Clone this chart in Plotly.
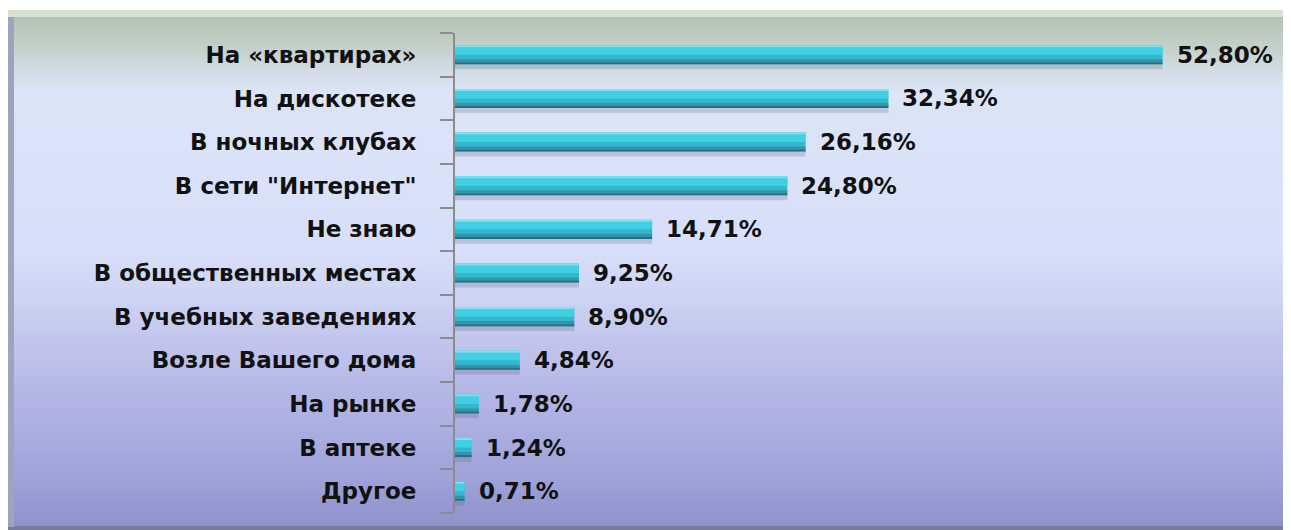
import plotly.graph_objects as go

# ---- data ----
categories = ["На «квартирах»", "На дискотеке", "В ночных клубах", "В сети \"Интернет\"",
              "Не знаю", "В общественных местах", "В учебных заведениях",
              "Возле Вашего дома", "На рынке", "В аптеке", "Другое"]
values = [52.80, 32.34, 26.16, 24.80, 14.71, 9.25, 8.90, 4.84, 1.78, 1.24, 0.71]
value_labels = [f"{v:.2f}".replace(".", ",") + "%" for v in values]

# page has an 8px body margin, so the figure is 8px smaller than the window
OFF = 8
W, H = 1291 - OFF, 530 - OFF
ML, MR, MT, MB = 455 - OFF, 1291 - 1259, 33 - OFF, 530 - 513
PW, PH = W - ML - MR, H - MT - MB


def px_x(p):
    return (p - OFF - ML) / PW


def px_y(p):
    return 1 - (p - OFF - MT) / PH


def hex2rgb(h):
    h = h.lstrip("#")
    return tuple(int(h[i:i + 2], 16) for i in (0, 2, 4))


def lerp(c1, c2, t):
    return tuple(round(a + (b - a) * t) for a, b in zip(c1, c2))


# background gradient stops (page pixel y, colour)
stops = [(17, "#b3c3b3"), (45, "#c3cfc7"), (72, "#d3dde6"), (92, "#dce5f7"),
         (250, "#d7dff9"), (300, "#cdd3f3"), (350, "#bfc3ec"), (420, "#adb0e2"),
         (480, "#9fa2d8"), (525, "#8f92cc")]

shapes = []
# frame bevels
shapes.append(dict(type="rect", xref="paper", yref="paper", x0=px_x(8), x1=px_x(1291),
                   y0=px_y(10), y1=px_y(530), fillcolor="#7a7c9c", line_width=0, layer="below"))
shapes.append(dict(type="rect", xref="paper", yref="paper", x0=px_x(8), x1=px_x(1284),
                   y0=px_y(10), y1=px_y(17), fillcolor="#d6e2cf", line_width=0, layer="below"))
shapes.append(dict(type="rect", xref="paper", yref="paper", x0=px_x(8), x1=px_x(14),
                   y0=px_y(17), y1=px_y(527), fillcolor="#9ea4bc", line_width=0, layer="below"))

step = 3
y = 17
while y < 526:
    yc = y + step / 2
    for (ya, ca), (yb, cb) in zip(stops[:-1], stops[1:]):
        if ya <= yc <= yb:
            c = lerp(hex2rgb(ca), hex2rgb(cb), (yc - ya) / (yb - ya))
            break
    else:
        c = hex2rgb(stops[-1][1])
    shapes.append(dict(type="rect", xref="paper", yref="paper", x0=px_x(14), x1=px_x(1284),
                       y0=px_y(min(y + step + 0.5, 526)), y1=px_y(y),
                       fillcolor="rgb(%d,%d,%d)" % c, line_width=0, layer="below"))
    y += step

fig = go.Figure()

# bar "3D" look: (offset, width, colour) in category units
layers = [
    (-0.33, 0.115, "rgba(95,95,135,0.25)"),   # shadow below
    (-0.218, 0.436, "#36b6cc"),                # base body
    (0.0, 0.172, "#40d0e6"),                   # bright upper half
    (0.172, 0.046, "#7fe2f0"),                 # top highlight edge
    (-0.172, 0.07, "#2c98ad"),                 # lower darker
    (-0.218, 0.046, "#2b6c7e"),                # bottom edge
]
for off, wd, col in layers:
    fig.add_trace(go.Bar(x=values, y=categories, orientation="h", offset=off, width=wd,
                         marker=dict(color=col, line_width=0), hoverinfo="skip",
                         showlegend=False))

for v, c, t in zip(values, categories, value_labels):
    fig.add_annotation(x=v, y=c, text=t, showarrow=False, xanchor="left", yanchor="middle",
                       xshift=12, font=dict(family="DejaVu Sans", size=23, color="#111111",
                                            weight="bold"))

fig.update_layout(
    width=W, height=H, margin=dict(l=ML, r=MR, t=MT, b=MB, autoexpand=False),
    paper_bgcolor="white", plot_bgcolor="rgba(0,0,0,0)", barmode="overlay",
    shapes=shapes,
    xaxis=dict(range=[0, 60], visible=False, showgrid=False, zeroline=False),
    yaxis=dict(type="category", categoryorder="array", categoryarray=categories[::-1],
               range=[-0.5, len(categories) - 0.5],
               showline=True, linecolor="#8c8c8c", linewidth=2,
               ticks="outside", tickson="boundaries", ticklen=13, tickcolor="#8c8c8c",
               tickwidth=2, showgrid=False, ticklabelstandoff=32,
               tickfont=dict(family="DejaVu Sans", size=23, color="#111111", weight="bold")),
)

fig.write_html("out.html")
